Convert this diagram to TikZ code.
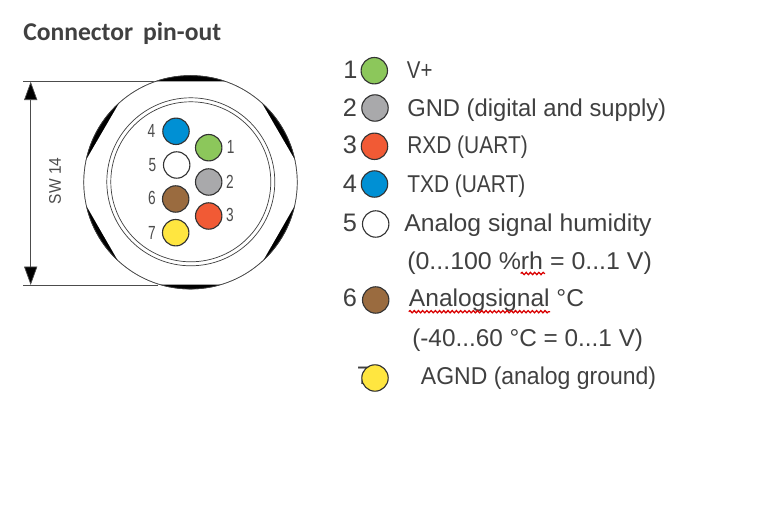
\documentclass[tikz,border=0pt]{standalone}
\usepackage{graphicx}
\usepackage{fontspec}
\setmainfont{Liberation Sans}
\newfontfamily\titlefont{Carlito}
\newfontfamily\narrowfont[FakeStretch=.72]{Liberation Sans}
\usetikzlibrary{arrows.meta,decorations.pathmorphing}
\definecolor{txtgray}{HTML}{404040}
\definecolor{pingreen}{HTML}{8CC75B}
\definecolor{pingray}{HTML}{A9A9AB}
\definecolor{pinred}{HTML}{F15A35}
\definecolor{pinblue}{HTML}{0090D4}
\definecolor{pinbrown}{HTML}{9A6B3F}
\definecolor{pinyellow}{HTML}{FFE640}
\newcommand{\legline}[2]{\scalebox{#1}[1]{#2}}
\tikzset{
  pin/.style={circle,draw=black!80,line width=.8pt,minimum size=.66cm,inner sep=0pt},
  pinnum/.style={font=\narrowfont\fontsize{13.5}{14}\selectfont,text=black!70,inner sep=0pt},
  legnum/.style={anchor=base west,font=\fontsize{18}{18}\selectfont,text=txtgray,inner sep=0pt},
  legtext/.style={anchor=base west,font=\fontsize{17.3}{18}\selectfont,text=txtgray,inner sep=0pt},
  dimline/.style={line width=.5pt,draw=black!70},
  spell/.style={red!85!black,line width=.9pt,decorate,decoration={snake,segment length=3,amplitude=.8}}
}
\begin{document}
\begin{tikzpicture}[x=.025cm,y=-.025cm]
  \useasboundingbox (0,0) rectangle (768,523);

  % Titulo
  \node[anchor=base west,inner sep=0pt,text=txtgray,font=\titlefont\bfseries\fontsize{18.2}{18}\selectfont] (title) at (23,40.5) {Connector\, pin-out};

  % Cota SW
  \coordinate (swtopl) at (23,81.7);
  \coordinate (swtopr) at (158,81.7);
  \coordinate (swbotl) at (23,285);
  \coordinate (swbotr) at (158,285);
  \coordinate (swtop) at (30.7,81.7);
  \coordinate (swbot) at (30.7,285);
  \draw[dimline] (swtopl) -- (swtopr);
  \draw[dimline] (swbotl) -- (swbotr);
  \draw[dimline,{Triangle[length=.46cm,width=.33cm,fill=black]}-{Triangle[length=.46cm,width=.33cm,fill=black]}] (swtop) -- (swbot);
  \node[rotate=90,text=black!70,inner sep=0pt,font=\fontsize{12}{12}\selectfont] (swlabel) at (55,181) {\legline{.92}{SW 14}};

  % Hexagono y cuerpo
  \fill[black] (190.5,182.3) circle (107);
  \begin{scope}
    \clip (308,182.5) -- (249.2,81.3) -- (131.8,81.3) -- (73,182.5) -- (131.8,284.7) -- (249.2,284.7) -- cycle;
    \fill[white] (190.5,182.3) circle (107);
  \end{scope}
  \draw[line width=.5pt,black!75] (190.5,182.3) circle (106.7);
  \draw[line width=.5pt,black!75] (190.8,181.8) circle (84);
  \draw[line width=.5pt,black!75] (190.8,181.8) circle (80);

  % Pines del conector
  \node[pin,fill=pinblue] (conpin4) at (176,131.3) {};
  \node[pin,fill=pingreen] (conpin1) at (208.7,147.7) {};
  \node[pin,fill=white] (conpin5) at (176.7,165) {};
  \node[pin,fill=pingray] (conpin2) at (208.7,182) {};
  \node[pin,fill=pinbrown] (conpin6) at (175.7,199) {};
  \node[pin,fill=pinred] (conpin3) at (208.7,216) {};
  \node[pin,fill=pinyellow] (conpin7) at (175.7,232.7) {};
  \node[pinnum] (connum4) at (151.3,130.7) {4};
  \node[pinnum] (connum1) at (230.7,147.3) {1};
  \node[pinnum] (connum5) at (152.3,165) {5};
  \node[pinnum] (connum2) at (230,181.7) {2};
  \node[pinnum] (connum6) at (152,198) {6};
  \node[pinnum] (connum3) at (230,215.3) {3};
  \node[pinnum] (connum7) at (152,232.7) {7};

  % Leyenda
  \node[legnum] (legnum1) at (343,78.5) {1};
  \node[legnum] (legnum2) at (342.7,116.7) {2};
  \node[legnum] (legnum3) at (342.7,154) {3};
  \node[legnum] (legnum4) at (342.7,192.7) {4};
  \node[legnum] (legnum5) at (342.7,231.7) {5};
  \node[legnum] (legnum6) at (342.7,307) {6};
  \node[legnum] (legnum7) at (356.5,385) {7};
  \node[pin,fill=pingreen] (legpin1) at (374.3,70.7) {};
  \node[pin,fill=pingray] (legpin2) at (375,108) {};
  \node[pin,fill=pinred] (legpin3) at (374.5,146.3) {};
  \node[pin,fill=pinblue] (legpin4) at (374.5,184) {};
  \node[pin,fill=white] (legpin5) at (375.7,224) {};
  \node[pin,fill=pinbrown] (legpin6) at (375.7,300) {};
  \node[pin,fill=pinyellow] (legpin7) at (375,378) {};

  \node[legtext] (legtext1) at (406.7,78.5) {\legline{.84}{V+}};
  \node[legtext] (legtext2) at (407,116.7) {\legline{.977}{GND (digital and supply)}};
  \node[legtext] (legtext3) at (407,154) {\legline{.86}{RXD (UART)}};
  \node[legtext] (legtext4) at (407,192.7) {\legline{.86}{TXD (UART)}};
  \node[legtext] (legtext5) at (404,231.7) {\legline{1.016}{Analog signal humidity}};
  \node[legtext] (legtext5b) at (407,269.3) {\legline{1.025}{(0...100 \%rh = 0...1 V)}};
  \node[legtext] (legtext6) at (408.7,307) {\legline{1.01}{Analogsignal °C}};
  \node[legtext] (legtext6b) at (412,346.7) {\legline{1}{(-40...60 °C = 0...1 V)}};
  \node[legtext] (legtext7) at (420.7,385) {\legline{.945}{AGND (analog ground)}};

  % Subrayado
  \coordinate (rhl) at (520.7,273.5);
  \coordinate (rhr) at (545,273.5);
  \coordinate (sigl) at (408.7,311.7);
  \coordinate (sigr) at (550,311.7);
  \draw[spell] (rhl) -- (rhr);
  \draw[spell] (sigl) -- (sigr);
\end{tikzpicture}
\end{document}
